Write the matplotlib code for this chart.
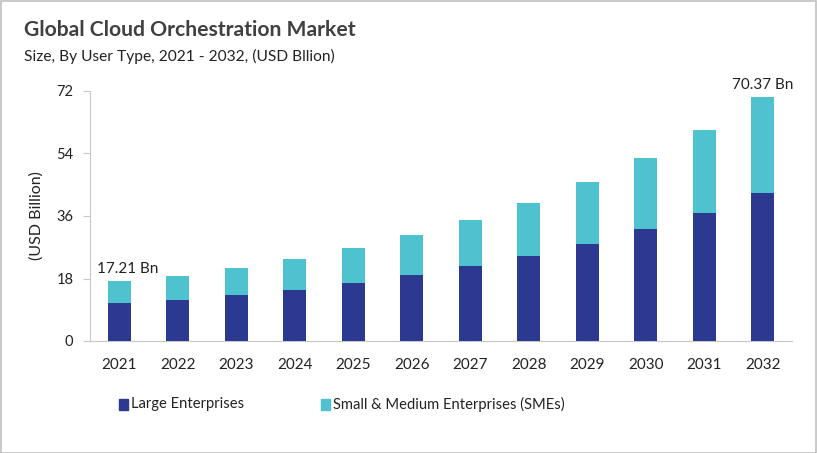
import matplotlib
matplotlib.use("Agg")
import matplotlib.pyplot as plt
from matplotlib.patches import Rectangle

years = ["2021", "2022", "2023", "2024", "2025", "2026", "2027", "2028", "2029", "2030", "2031", "2032"]
large = [10.9, 11.8, 13.2, 14.7, 16.7, 19.0, 21.6, 24.5, 27.9, 32.3, 36.9, 42.6]
totals = [17.21, 18.7, 21.0, 23.6, 26.8, 30.5, 34.9, 39.7, 45.8, 52.7, 60.8, 70.37]
smes = [t - l for t, l in zip(totals, large)]
yticks = [0, 18, 36, 54, 72]

dark = "#2B3990"
light = "#4EC3CF"
txt = "#222222"
font = ["Lato", "DejaVu Sans"]

fig = plt.figure(figsize=(8.17, 4.53), dpi=100)
ax = fig.add_axes([90/817, 1 - 341/453, 702/817, 250/453])

x = list(range(len(years)))
ax.bar(x, large, width=0.39, color=dark, label="Large Enterprises", zorder=3)
ax.bar(x, smes, width=0.39, bottom=large, color=light,
       label="Small & Medium Enterprises (SMEs)", zorder=3)

ax.set_xlim(-0.5, len(years) - 0.5)
ax.set_ylim(0, 72)
ax.set_yticks(yticks)
ax.set_yticklabels([str(v) for v in yticks], fontsize=10.5, family=font, color=txt)
ax.set_xticks(x)
ax.set_xticklabels(years, fontsize=11, family=font, color=txt)
for s in ["top", "right"]:
    ax.spines[s].set_visible(False)
for s in ["left", "bottom"]:
    ax.spines[s].set_color("#C8C8C8")
ax.tick_params(axis="y", length=5, color="#C8C8C8", pad=7)
ax.tick_params(axis="x", length=0, pad=12)
ax.set_ylabel("(USD Billion)", fontsize=11.5, family=font, color=txt, labelpad=9)

ax.annotate("17.21 Bn", (0, totals[0]), xytext=(6, 4), textcoords="offset points",
            ha="center", va="bottom", fontsize=11, family=font, color=txt)
ax.annotate("70.37 Bn", (11, totals[-1]), xytext=(0, 3), textcoords="offset points",
            ha="center", va="bottom", fontsize=11, family=font, color=txt)

fig.text(24/817, 1 - 36/453, "Global Cloud Orchestration Market", fontsize=15.2,
         fontweight="bold", family=font, color="#404040", va="baseline")
fig.text(24/817, 1 - 61/453, "Size, By User Type, 2021 - 2032, (USD Bllion)", fontsize=11.2,
         family=font, color=txt, va="baseline")

# legend
fig.patches.append(Rectangle((119/817, 1 - 410/453), 9/817, 11/453, transform=fig.transFigure,
                             color=dark, figure=fig))
fig.text(131/817, 1 - 404/453, "Large Enterprises", fontsize=10.6, family=font, color=txt, va="center")
fig.patches.append(Rectangle((321/817, 1 - 410/453), 9/817, 11/453, transform=fig.transFigure,
                             color=light, figure=fig))
fig.text(333/817, 1 - 404/453, "Small & Medium Enterprises (SMEs)", fontsize=10.6, family=font,
         color=txt, va="center")

# border
fig.patches.append(Rectangle((0.5/817, 0.5/453), 815.5/817, 451.5/453, transform=fig.transFigure,
                             fill=False, edgecolor="#C0C0C0", linewidth=1.2, figure=fig))

fig.savefig("out.png", dpi=100)
